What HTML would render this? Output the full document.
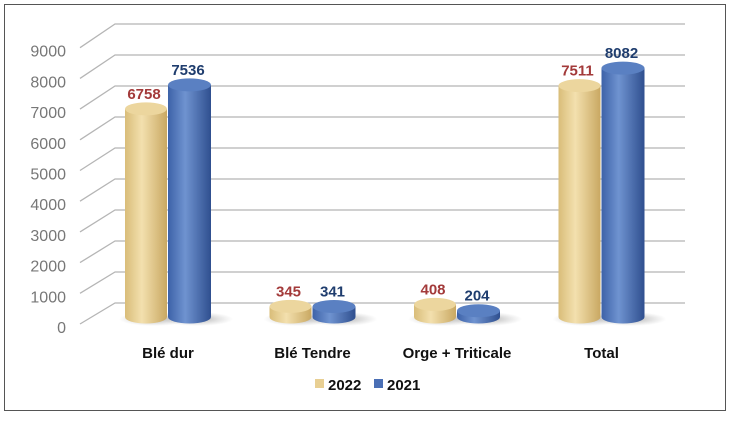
<!DOCTYPE html>
<html><head><meta charset="utf-8"><style>
body{margin:0;background:#fff;}
svg{display:block;font-family:"Liberation Sans",sans-serif;}
</style></head><body>
<svg width="730" height="422" viewBox="0 0 730 422">
<defs>
<linearGradient id="gold" x1="0" x2="1" y1="0" y2="0">
<stop offset="0" stop-color="#d9bd79"/><stop offset="0.4" stop-color="#f3e0ae"/><stop offset="1" stop-color="#c9a862"/></linearGradient>
<linearGradient id="blue" x1="0" x2="1" y1="0" y2="0">
<stop offset="0" stop-color="#3d62a8"/><stop offset="0.4" stop-color="#6f93d0"/><stop offset="1" stop-color="#2f4f8f"/></linearGradient>
<radialGradient id="shadow"><stop offset="0" stop-color="#777" stop-opacity="0.6"/><stop offset="1" stop-color="#999" stop-opacity="0"/></radialGradient>
</defs>
<rect x="4.5" y="4.5" width="721" height="406" fill="#fff" stroke="#555" stroke-width="1"/>
<g id="grid"></g>
<g id="bars"></g>
<g id="labels"></g>
<g>
<rect x="315" y="379" width="9" height="9" fill="#e8cf93"/>
<text x="328" y="390" font-size="15" font-weight="bold" fill="#111">2022</text>
<rect x="374" y="379" width="9" height="9" fill="#4a6fb5"/>
<text x="387" y="390" font-size="15" font-weight="bold" fill="#111">2021</text>
</g>
</svg>
<script>
const categories=["Blé dur","Blé Tendre","Orge + Triticale","Total"];
const values2022=[6758,345,408,7511];
const values2021=[7536,341,204,8082];
const ticks=[0,1000,2000,3000,4000,5000,6000,7000,8000,9000];
const NS="http://www.w3.org/2000/svg";
function mk(t,a,p){const e=document.createElementNS(NS,t);for(const k in a)e.setAttribute(k,a[k]);p.appendChild(e);return e;}
const base=317,k=0.0308;
function yv(v){return base-v*k;}
function yBack(v){return 303-v*0.031;}
function yFront(v){return 328-v*0.0307;}
const cx=i=>168+i*144.5;
const grid=document.getElementById('grid');
ticks.forEach(t=>{
 const yf=yFront(t), yb=yBack(t);
 const l=mk('polyline',{points:`80,${yf-4} 115,${yb} 685,${yb}`,fill:'none',stroke:'#b5b5b5','stroke-width':1.3},grid);
 
 
 const tx=mk('text',{x:66,y:yf+5,'text-anchor':'end','font-size':16,fill:'#777'},grid);
 tx.textContent=t;
 
 
});
const bars=document.getElementById('bars'), labels=document.getElementById('labels');
function cyl(x,w,v,fill,top,name){
 const g=mk('g',{},bars);
 
 
 const ry=6.5, y=yv(v);
 mk('ellipse',{cx:x+w/2+8,cy:base+2,rx:w/2+14,ry:7,fill:'url(#shadow)'},g);
 mk('path',{d:`M${x},${y} L${x},${base} A${w/2},${ry} 0 0 0 ${x+w},${base} L${x+w},${y} Z`,fill:fill},g);
 mk('ellipse',{cx:x+w/2,cy:y,rx:w/2,ry:ry,fill:top},g);
}
categories.forEach((c,i)=>{
 const c0=cx(i);
 cyl(c0-43,42,values2022[i],'url(#gold)','#ecd69e','bar-2022-'+i);
 cyl(c0,43,values2021[i],'url(#blue)','#5a80c2','bar-2021-'+i);
 const l1=mk('text',{x:c0-24,y:yv(values2022[i])-10,'text-anchor':'middle','font-size':15,'font-weight':'bold',fill:'#a33a3a'},labels);
 l1.textContent=values2022[i];
 
 
 const l2=mk('text',{x:c0+20,y:yv(values2021[i])-10,'text-anchor':'middle','font-size':15,'font-weight':'bold',fill:'#1f3d6e'},labels);
 l2.textContent=values2021[i];
 
 
 const cl=mk('text',{x:c0,y:358,'text-anchor':'middle','font-size':15,'font-weight':'bold',fill:'#111'},labels);
 cl.textContent=c;
 
 
});
</script>
</body></html>
